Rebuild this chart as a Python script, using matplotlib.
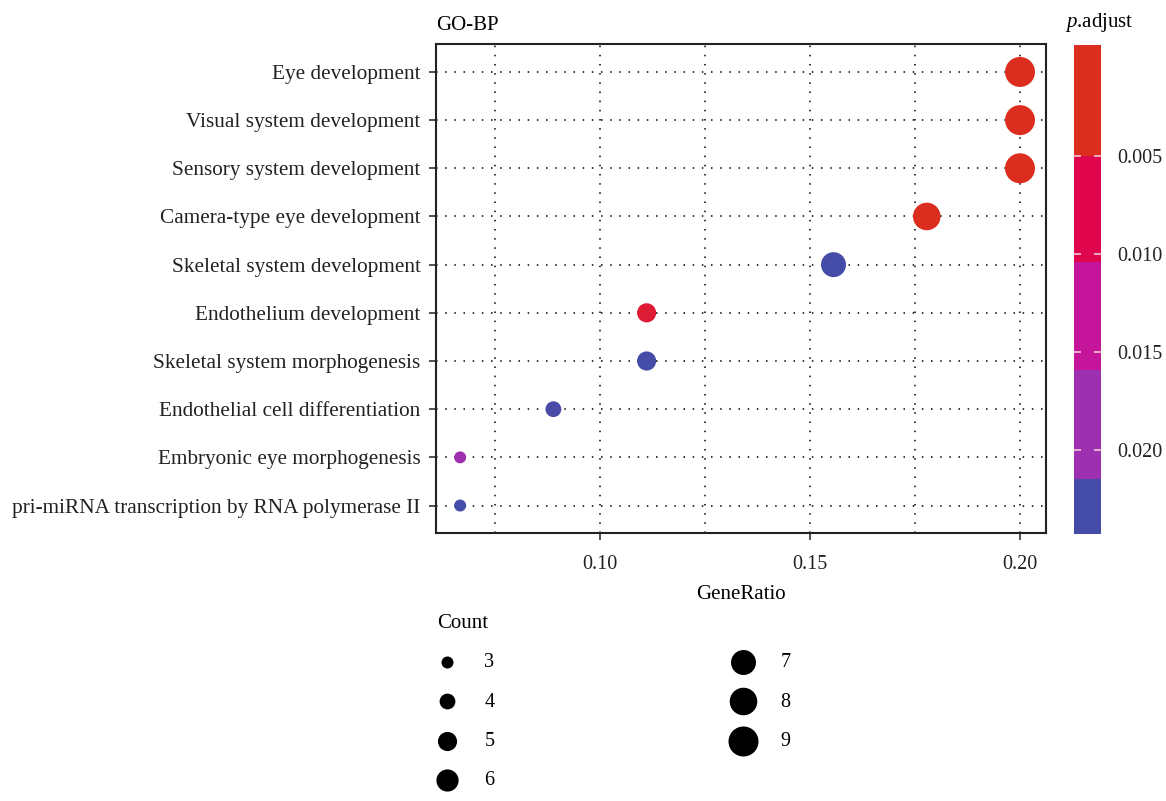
import numpy as np
import matplotlib
matplotlib.use("Agg")
import matplotlib.pyplot as plt
from matplotlib.colors import ListedColormap, BoundaryNorm, LinearSegmentedColormap
from matplotlib.colorbar import ColorbarBase
from matplotlib.ticker import MultipleLocator

plt.rcParams['font.family'] = 'Liberation Serif'
plt.rcParams['mathtext.fontset'] = 'custom'
plt.rcParams['mathtext.it'] = 'Liberation Serif:italic'
plt.rcParams['mathtext.rm'] = 'Liberation Serif'

terms = ['Eye development', 'Visual system development', 'Sensory system development',
         'Camera-type eye development', 'Skeletal system development',
         'Endothelium development', 'Skeletal system morphogenesis',
         'Endothelial cell differentiation', 'Embryonic eye morphogenesis',
         'pri-miRNA transcription by RNA polymerase II']
gene_ratio = [0.2000, 0.2000, 0.2000, 0.1778, 0.1556, 0.1111, 0.1111, 0.0889, 0.0667, 0.0667]
counts = [9, 9, 9, 8, 7, 5, 5, 4, 3, 3]
p_adjust = [0.0004, 0.0004, 0.0005, 0.0009, 0.0243, 0.0050, 0.0243, 0.0240, 0.0185, 0.0243]

legend_counts = [3, 4, 5, 6, 7, 8, 9]
cbar_ticks = [0.005, 0.010, 0.015, 0.020]

# palette (red -> blue) and the stepped bands shown in the colorbar
band_colors = ['#DC2E1F', '#E0064E', '#C5159A', '#9C30B0', '#444CA8']
band_edges = [-0.0007, 0.00495, 0.0104, 0.0159, 0.0215, 0.0243]

vmin, vmax = 0.0, 0.0243
nodes = [0.0, 0.0025, 0.0077, 0.0132, 0.0187, 0.0243]
node_cols = ['#DC2E1F', '#DC2E1F', '#E0064E', '#C5159A', '#9C30B0', '#444CA8']
cmap = LinearSegmentedColormap.from_list(
    'padj', [((n - vmin) / (vmax - vmin), c) for n, c in zip(nodes, node_cols)])


def diam(c):
    # area-style size scale: diameter linear in sqrt(count), 12px..30px
    lo, hi = np.sqrt(3), np.sqrt(9)
    d_px = 12 + (np.sqrt(c) - lo) / (hi - lo) * 18
    return (d_px * 72 / 100) ** 2


fig = plt.figure(figsize=(11.66, 8.01), dpi=100)
ax = fig.add_axes([436 / 1166, 1 - 533 / 801, 610 / 1166, 489 / 801])

ypos = np.arange(len(terms))[::-1]
ax.scatter(gene_ratio, ypos, s=[diam(c) for c in counts], c=p_adjust,
           cmap=cmap, vmin=vmin, vmax=vmax, zorder=3, linewidths=0)

ax.set_yticks(ypos)
ax.set_yticklabels(terms, fontsize=15.3, color='#222222')
ax.set_ylim(-0.57, 9.58)
ax.set_xlim(0.06095, 0.20619)
ax.xaxis.set_minor_locator(MultipleLocator(0.025))
ax.set_xticks([0.10, 0.15, 0.20])
ax.set_xticklabels(['0.10', '0.15', '0.20'], fontsize=14.5, color='#222222')
ax.grid(True, which='both', linestyle=(0, (1, 5)), color='black', linewidth=1.1)
ax.set_axisbelow(True)
ax.tick_params(axis='y', which='major', direction='out', length=5, width=1.2,
               color='#333333', pad=6)
ax.tick_params(axis='x', which='major', direction='out', length=5, width=1.2,
               color='#333333', pad=11)
ax.tick_params(axis='x', which='minor', length=0)
for sp in ax.spines.values():
    sp.set_linewidth(1.5)
    sp.set_color('#222222')
ax.set_xlabel('GeneRatio', fontsize=15, labelpad=8)
ax.set_title('GO-BP', loc='left', fontsize=15, pad=10, x=0.0)

# colorbar (stepped bands)
cax = fig.add_axes([1074 / 1166, 1 - 534 / 801, 27 / 1166, 489 / 801])
cb = ColorbarBase(cax, cmap=ListedColormap(band_colors),
                  norm=BoundaryNorm(band_edges, len(band_colors)),
                  boundaries=band_edges, spacing='proportional',
                  orientation='vertical')
cb.ax.invert_yaxis()
cb.set_ticks(cbar_ticks)
cb.set_ticklabels(['%.3f' % t for t in cbar_ticks])
cb.minorticks_off()
cb.outline.set_visible(False)
cax.yaxis.set_ticks_position('both')
cax.tick_params(axis='y', which='major', direction='in', length=5, width=1.2,
                color='#F4C6D6', labelsize=14.5, pad=12, labelcolor='#222222')
cax.tick_params(axis='y', which='minor', length=0)
fig.text(1065 / 1166, 1 - 22 / 801, '$p$.adjust', fontsize=15, ha='left', va='center')

# size legend
handles = [ax.scatter([], [], s=diam(c), color='black', linewidths=0) for c in legend_counts]
leg = fig.legend(handles, [str(c) for c in legend_counts], loc='upper left',
                 bbox_to_anchor=(423 / 1166, 1 - 600 / 801), ncol=2, frameon=False,
                 title='Count', title_fontsize=15, fontsize=14.5,
                 alignment='left', labelspacing=1.0, handlelength=1.0,
                 handletextpad=1.35, columnspacing=11.85, borderpad=0.2)

fig.savefig('out.png', dpi=100)
